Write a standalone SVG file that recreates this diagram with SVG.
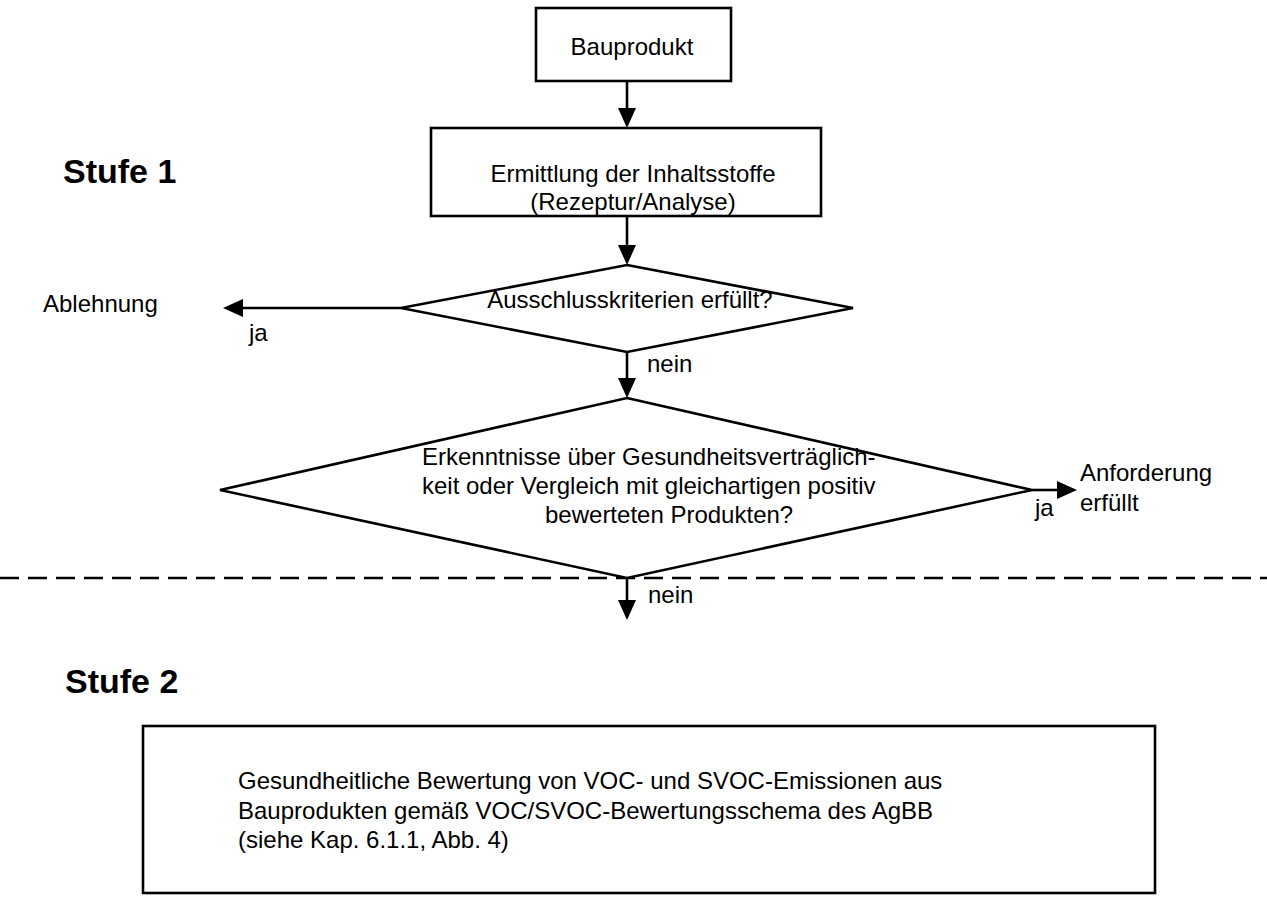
<svg xmlns="http://www.w3.org/2000/svg" width="1267" height="912" viewBox="0 0 1267 912">
<defs>
<style>
.t{font-family:"Liberation Sans",Arial,sans-serif;font-size:24px;fill:#000}
.b{font-family:"Liberation Sans",Arial,sans-serif;font-size:34px;font-weight:bold;fill:#000}
.s{fill:#fff;stroke:#000;stroke-width:2.6}
.c{fill:none;stroke:#000;stroke-width:2.6}
</style>
<marker id="ah" viewBox="0 0 20 18" refX="1" refY="9" markerWidth="20" markerHeight="18" markerUnits="userSpaceOnUse" orient="auto">
<path d="M0,0 L20,9 L0,18 Z" fill="#000"/>
</marker>
</defs>
<rect width="1267" height="912" fill="#fff"/>
<text class="b" x="63" y="183">Stufe 1</text>
<text class="b" x="65" y="693">Stufe 2</text>
<g id="connectors">
<line class="c" x1="627" y1="81" x2="627" y2="109" marker-end="url(#ah)"/>
<line class="c" x1="627" y1="216" x2="627" y2="246" marker-end="url(#ah)"/>
<line class="c" x1="401" y1="308" x2="242" y2="308" marker-end="url(#ah)"/>
<line class="c" x1="627" y1="352" x2="627" y2="379" marker-end="url(#ah)"/>
<line class="c" x1="1032" y1="490" x2="1058" y2="490" marker-end="url(#ah)"/>
<line class="c" x1="627" y1="578" x2="627" y2="601" marker-end="url(#ah)"/>
<line class="c" x1="0" y1="578" x2="1267" y2="578" stroke-width="3" stroke-dasharray="19 9"/>
<text class="t" x="249" y="341">ja</text>
<text class="t" x="647" y="372">nein</text>
<text class="t" x="1035" y="516">ja</text>
<text class="t" x="648" y="603">nein</text>
</g>
<g id="bauprodukt">
<rect class="s" x="536" y="8" width="195" height="73"/>
<text class="t" x="632" y="55" text-anchor="middle">Bauprodukt</text>
</g>
<g id="ermittlung">
<rect class="s" x="431" y="128" width="390" height="88"/>
<text class="t" x="633" y="182" text-anchor="middle">Ermittlung der Inhaltsstoffe</text>
<text class="t" x="633" y="210" text-anchor="middle">(Rezeptur/Analyse)</text>
</g>
<g id="ausschluss">
<polygon class="s" points="627,265 853,308 627,352 401,308"/>
<text class="t" x="630" y="308" text-anchor="middle">Ausschlusskriterien erfüllt?</text>
</g>
<g id="ablehnung">
<text class="t" x="43" y="312">Ablehnung</text>
</g>
<g id="erkenntnisse">
<polygon class="s" points="627,398 1032,490 627,578 220,490"/>
<text class="t" x="422" y="465">Erkenntnisse über Gesundheitsverträglich-</text>
<text class="t" x="422" y="494">keit oder Vergleich mit gleichartigen positiv</text>
<text class="t" x="545" y="523">bewerteten Produkten?</text>
</g>
<g id="anforderung">
<text class="t" x="1080" y="481">Anforderung</text>
<text class="t" x="1080" y="511">erfüllt</text>
</g>
<g id="stufe2box">
<rect class="s" x="143" y="726" width="1012" height="167"/>
<text class="t" x="238" y="789">Gesundheitliche Bewertung von VOC- und SVOC-Emissionen aus</text>
<text class="t" x="238" y="819">Bauprodukten gemäß VOC/SVOC-Bewertungsschema des AgBB</text>
<text class="t" x="238" y="848">(siehe Kap. 6.1.1, Abb. 4)</text>
</g>
</svg>
